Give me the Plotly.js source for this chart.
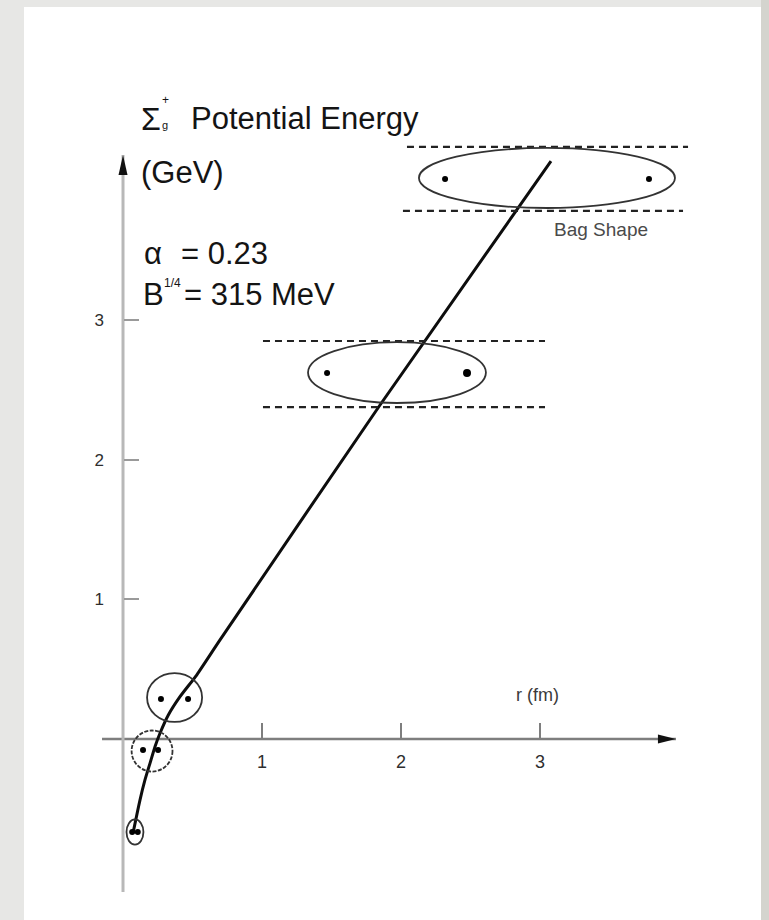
<!DOCTYPE html>
<html>
<head>
<meta charset="utf-8">
<script src="https://cdn.plot.ly/plotly-3.0.1.min.js"></script>
<style>
  html, body { margin: 0; padding: 0; background: #e7e7e5; }
  #chart { width: 769px; height: 920px; }
</style>
</head>
<body>
<div id="chart"></div>
<script>
// Ground-state flux-tube potential: separation r (fm) vs energy (GeV)
const rValues      = [0.074, 0.122, 0.158, 0.194, 0.230, 0.266, 0.326, 0.410, 0.530, 0.698, 1.849, 3.079];
const energyValues = [-0.664, -0.437, -0.293, -0.174, -0.055, 0.041, 0.172, 0.303, 0.458, 0.709, 2.391, 4.137];

// Bag shapes at increasing separation: centre and half extents
const bagCentreR = [0.086, 0.209, 0.371, 1.971, 3.050];
const bagCentreE = [-0.666, -0.086, 0.297, 2.623, 4.016];
const bagHalfR   = [0.061, 0.147, 0.198, 0.640, 0.921];
const bagHalfE   = [0.090, 0.147, 0.175, 0.218, 0.215];

// Quark positions inside each bag
const quarkR = [0.066, 0.106, 0.144, 0.252, 0.273, 0.468, 1.468, 2.475, 2.317, 3.784];
const quarkE = [-0.666, -0.666, -0.079, -0.079, 0.286, 0.286, 2.620, 2.620, 4.009, 4.009];

// Dashed bag boundaries
const boundStartR = [1.007, 1.007, 2.043, 2.014];
const boundEndR   = [3.036, 3.036, 4.065, 4.029];
const boundE      = [2.849, 2.376, 4.238, 3.780];

// Axis ticks and extents
const rTicks = [1, 2, 3];
const rTickText = ['1', '2', '3'];
const eTicks = [1, 2, 3];
const eTickText = ['1', '2', '3'];
const rAxisSpan = [-0.151, 3.978];
const eAxisSpan = [-1.095, 4.180];

const W = 769, H = 920;
const FONT = 'Liberation Sans, Arial, Helvetica, sans-serif';
const xRange = [-0.885, 4.6475];
const yRange = [-1.2956, 5.2899];

const curve = {
  x: rValues, y: energyValues, type: 'scatter', mode: 'lines',
  line: { color: '#0d0d0d', width: 3, shape: 'spline', smoothing: 0.6 },
  hoverinfo: 'skip'
};

const quarkSizes = quarkR.map((_, i) => (i === 7 ? 8 : 6));
const quarks = {
  x: quarkR, y: quarkE, type: 'scatter', mode: 'markers',
  marker: { color: '#000000', size: quarkSizes, opacity: 1, line: { width: 0 } },
  hoverinfo: 'skip'
};

const shapes = [];

// axes drawn at the origin with arrow tips
shapes.push({ type: 'line', xref: 'x', yref: 'y', layer: 'below',
  x0: rAxisSpan[0], x1: rAxisSpan[1], y0: 0, y1: 0,
  line: { color: '#7e7e7e', width: 2.6 } });
shapes.push({ type: 'line', xref: 'x', yref: 'y', layer: 'below',
  x0: 0, x1: 0, y0: eAxisSpan[0], y1: eAxisSpan[1],
  line: { color: '#b8b8b8', width: 3 } });
shapes.push({ type: 'path', xref: 'x', yref: 'y', xsizemode: 'pixel', ysizemode: 'pixel',
  xanchor: rAxisSpan[1], yanchor: 0, path: 'M0,0 L-18,4.5 L-18,-4.5 Z',
  fillcolor: '#111111', line: { width: 0 } });
shapes.push({ type: 'path', xref: 'x', yref: 'y', xsizemode: 'pixel', ysizemode: 'pixel',
  xanchor: 0, yanchor: eAxisSpan[1], path: 'M0,0 L-4.5,-20 L4.5,-20 Z',
  fillcolor: '#111111', line: { width: 0 } });

// dashed boundaries
boundE.forEach((e, i) => {
  shapes.push({ type: 'line', xref: 'x', yref: 'y',
    x0: boundStartR[i], x1: boundEndR[i], y0: e, y1: e,
    line: { color: '#222222', width: 2.2, dash: '7px,5px' } });
});

// bags
bagCentreR.forEach((c, i) => {
  shapes.push({ type: 'circle', xref: 'x', yref: 'y',
    x0: c - bagHalfR[i], x1: c + bagHalfR[i],
    y0: bagCentreE[i] - bagHalfE[i], y1: bagCentreE[i] + bagHalfE[i],
    line: { color: '#333333', width: 1.8, dash: i === 1 ? '4px,1.5px' : 'solid' } });
});

function ann(text, x, y, size, extra) {
  return Object.assign({
    xref: 'paper', yref: 'paper', x: x / W, y: 1 - y / H, text: text,
    showarrow: false, xanchor: 'left', yanchor: 'middle',
    font: { family: FONT, size: size, color: '#141414' }
  }, extra || {});
}

const annotations = [
  ann('Σ', 139, 119, 32),
  ann('+', 160, 100, 12),
  ann('g', 160, 125, 11),
  ann('Potential Energy', 189, 119, 31),
  ann('(GeV)', 139, 172, 31),
  ann('α', 142, 253, 31),
  ann('= 0.23', 179, 253, 31),
  ann('B', 141, 294, 31),
  ann('1/4', 162, 283, 12),
  ann('= 315 MeV', 182, 294, 31),
  ann('Bag Shape', 601, 229, 19, { xanchor: 'center', font: { family: FONT, size: 19, color: '#4a4a4a' } }),
  ann('r (fm)', 537, 695, 18, { xanchor: 'center', font: { family: FONT, size: 18, color: '#3a3a3a' } })
];

const layout = {
  width: W, height: H,
  margin: { l: 0, r: 0, t: 0, b: 0 },
  paper_bgcolor: '#e7e7e5',
  plot_bgcolor: 'rgba(0,0,0,0)',
  showlegend: false,
  xaxis: {
    range: xRange, showgrid: false, zeroline: false, showline: false,
    anchor: 'free', position: (0 - yRange[0]) / (yRange[1] - yRange[0]),
    ticks: 'inside', ticklen: 16, tickwidth: 2, tickcolor: '#7e7e7e',
    tickvals: rTicks, ticktext: rTickText, ticklabelstandoff: 10,
    tickfont: { family: FONT, size: 18, color: '#2e2e2e' }, fixedrange: true
  },
  yaxis: {
    range: yRange, showgrid: false, zeroline: false, showline: false,
    anchor: 'free', position: (0 - xRange[0]) / (xRange[1] - xRange[0]),
    ticks: 'inside', ticklen: 15, tickwidth: 2, tickcolor: '#9a9a9a',
    tickvals: eTicks, ticktext: eTickText, ticklabelstandoff: 19,
    tickfont: { family: FONT, size: 17, color: '#2e2e2e' }, fixedrange: true
  },
  shapes: [
    { type: 'rect', xref: 'paper', yref: 'paper', layer: 'below',
      x0: 24 / W, x1: 761 / W, y0: 0, y1: 1 - 7 / H,
      fillcolor: '#ffffff', line: { width: 0 } },
    { type: 'rect', xref: 'paper', yref: 'paper', layer: 'below',
      x0: 761 / W, x1: 1, y0: 0, y1: 1,
      fillcolor: '#d4d4ce', line: { width: 0 } }
  ].concat(shapes),
  annotations: annotations
};

Plotly.newPlot('chart', [curve, quarks], layout, { displayModeBar: false, staticPlot: true });
</script>
</body>
</html>
